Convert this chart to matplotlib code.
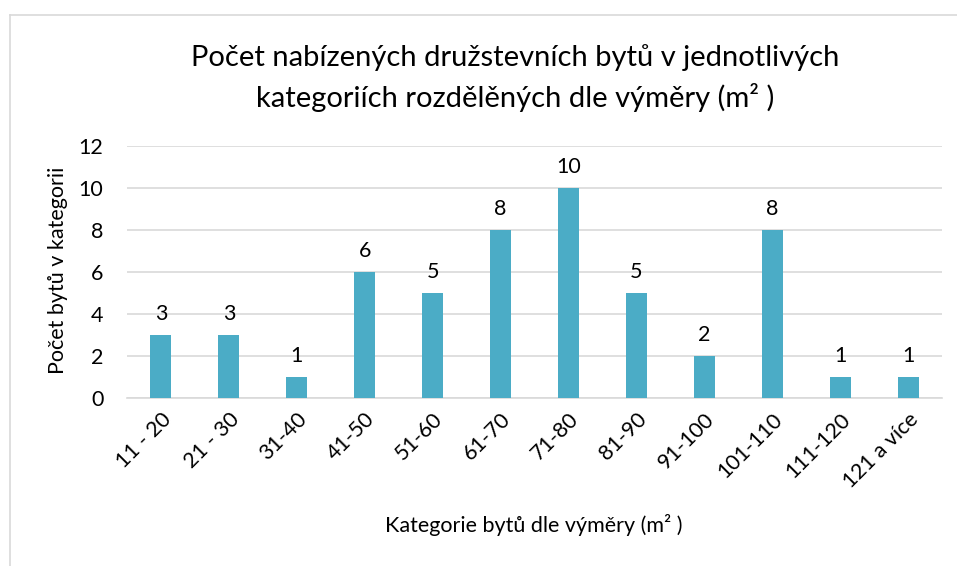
import matplotlib
matplotlib.use("Agg")
import matplotlib.pyplot as plt

categories = ["11 - 20", "21 - 30", "31-40", "41-50", "51-60", "61-70", "71-80",
              "81-90", "91-100", "101-110", "111-120", "121 a více"]
values = [3, 3, 1, 6, 5, 8, 10, 5, 2, 8, 1, 1]
yticks = [0, 2, 4, 6, 8, 10, 12]

plt.rcParams['font.family'] = ['Lato', 'DejaVu Sans']

W, H = 957, 566
fig = plt.figure(figsize=(W / 100, H / 100), dpi=100)
ax = fig.add_axes([127 / W, 1 - 398 / H, (942 - 127) / W, (398 - 146) / H])

x = list(range(len(categories)))
ax.bar(x, values, width=0.31, color="#4BACC6", zorder=3)
ax.set_xlim(-0.5, len(categories) - 0.5)
ax.set_ylim(0, 12)
ax.set_yticks(yticks)
ax.yaxis.grid(True, color="#D9D9D9", linewidth=1.2, zorder=0)
for s in ["top", "right", "left"]:
    ax.spines[s].set_visible(False)
ax.spines["bottom"].set_color("#D9D9D9")
ax.spines["bottom"].set_linewidth(1.2)
ax.tick_params(axis="both", length=0, labelsize=15.5, colors="#000000")
ax.tick_params(axis="y", pad=17)
ax.set_xticks(x)
ax.set_xticklabels(categories, rotation=45, ha="right", rotation_mode="anchor")
ax.tick_params(axis="x", pad=8)

for xi, v in zip(x, values):
    ax.annotate(str(v), (xi, v), xytext=(0, 8), textcoords="offset points",
                ha="center", va="bottom", fontsize=15.5, color="#000000")

fig.text(515 / W, 1 - 58 / H, "Počet nabízených družstevních bytů v jednotlivých",
         ha="center", va="center", fontsize=21)
fig.text(515 / W, 1 - 97 / H, "kategoriích rozdělěných dle výměry (m² )",
         ha="center", va="center", fontsize=21)
fig.text(58 / W, 1 - 270 / H, "Počet bytů v kategorii", rotation=90,
         ha="center", va="center", fontsize=15.5)
fig.text(534 / W, 1 - 525 / H, "Kategorie bytů dle výměry (m² )",
         ha="center", va="center", fontsize=15.5)

# chart border (partially visible)
fig.add_artist(plt.Line2D([10 / W, 1], [1 - 15 / H, 1 - 15 / H], color="#D9D9D9", lw=1.2))
fig.add_artist(plt.Line2D([10 / W, 10 / W], [0, 1 - 15 / H], color="#D9D9D9", lw=1.2))

fig.savefig("out.png", dpi=100, facecolor="white")
